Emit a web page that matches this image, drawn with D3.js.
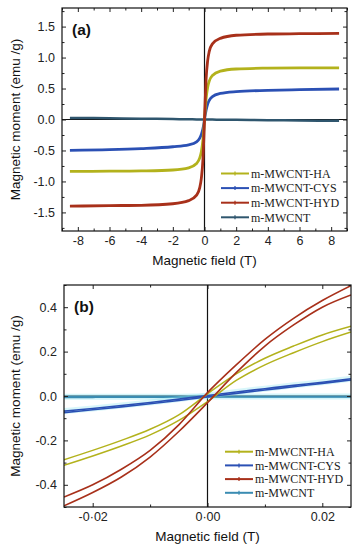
<!DOCTYPE html>
<html>
<head>
<meta charset="utf-8">
<script src="https://cdn.jsdelivr.net/npm/d3@7"></script>
<style>
  body { margin: 0; background: #fff; }
  svg { display: block; }
  .tick text { font-family: "Liberation Sans", Arial, sans-serif; font-size: 12.5px; fill: #222; }
  .domain { display: none; }
</style>
</head>
<body>
<svg width="359" height="550"></svg>
<script>
// series names + colours
const seriesNames = ["m-MWCNT-HA", "m-MWCNT-CYS", "m-MWCNT-HYD", "m-MWCNT"];
const colorsA = ["#b3b21c", "#2b50b4", "#a8301a", "#2f566e"];
const colorsB = ["#b3b21c", "#2b50b4", "#a8301a", "#3a8cb2"];

// (a) full loop, field in T, moment in emu/g
const fieldA = [-8.5, -6, -4, -2, -1, -0.5, -0.3, -0.2, -0.1, -0.05, 0, 0.05, 0.1, 0.2, 0.3, 0.5, 1, 2, 4, 6, 8.5];
const haA  = [-0.837, -0.835, -0.83, -0.815, -0.78, -0.71, -0.62, -0.52, -0.33, -0.18, 0, 0.18, 0.33, 0.52, 0.62, 0.71, 0.78, 0.815, 0.83, 0.835, 0.835];
const cysA = [-0.497, -0.487, -0.47, -0.44, -0.41, -0.36, -0.30, -0.24, -0.15, -0.08, 0, 0.08, 0.15, 0.25, 0.31, 0.37, 0.42, 0.45, 0.47, 0.482, 0.492];
const hydA = [-1.40, -1.39, -1.385, -1.36, -1.31, -1.22, -1.10, -0.95, -0.65, -0.35, 0, 0.35, 0.65, 0.95, 1.10, 1.22, 1.31, 1.36, 1.38, 1.385, 1.39];
const mwA  = [0.025, 0.02, 0.014, 0.007, 0.004, 0.002, 0.001, 0.001, 0, 0, 0, 0, 0, -0.001, -0.001, -0.002, -0.003, -0.006, -0.011, -0.016, -0.022];

// (b) low-field zoom, two branches each (upper = descending, lower = ascending)
const fieldB = [-0.025, -0.02, -0.015, -0.01, -0.005, 0, 0.005, 0.01, 0.015, 0.02, 0.025];
const haUpB   = [-0.287, -0.245, -0.20, -0.15, -0.085, 0.01, 0.10, 0.17, 0.225, 0.275, 0.314];
const haLoB   = [-0.312, -0.27, -0.225, -0.175, -0.11, -0.025, 0.07, 0.14, 0.195, 0.245, 0.288];
const cysUpB  = [-0.068, -0.056, -0.043, -0.029, -0.014, 0.002, 0.018, 0.033, 0.048, 0.062, 0.078];
const cysLoB  = [-0.075, -0.062, -0.049, -0.035, -0.020, -0.004, 0.012, 0.027, 0.042, 0.057, 0.072];
const hydUpB  = [-0.455, -0.40, -0.33, -0.245, -0.13, 0.015, 0.14, 0.255, 0.35, 0.43, 0.497];
const hydLoB  = [-0.495, -0.435, -0.365, -0.275, -0.16, -0.03, 0.105, 0.225, 0.32, 0.40, 0.455];
const mwUpB   = [-0.003, -0.003, -0.003, -0.003, -0.003, -0.002, -0.002, -0.002, -0.002, -0.002, -0.002];
const mwLoB   = [-0.006, -0.006, -0.005, -0.005, -0.005, -0.005, -0.004, -0.004, -0.004, -0.004, -0.004];

// ticks
const xMajorA = [-8, -6, -4, -2, 0, 2, 4, 6, 8];
const xMinorA = [-9, -7, -5, -3, -1, 1, 3, 5, 7, 9];
const yMajorA = [-1.5, -1.0, -0.5, 0.0, 0.5, 1.0, 1.5];
const yMinorA = [-1.75, -1.25, -0.75, -0.25, 0.25, 0.75, 1.25, 1.75];
const xMajorB = [-0.02, 0, 0.02];
const xLabelsB = ["-0\u00b702", "0\u00b700", "0.02"];
const xMinorB = [-0.01, 0.01];
const yMajorB = [-0.4, -0.2, 0.0, 0.2, 0.4];
const yMinorB = [-0.5, -0.3, -0.1, 0.1, 0.3, 0.5];

const svg = d3.select("svg");

// plain hyphen instead of d3's unicode minus
const hyph = f => (d => f(d).replace("\u2212", "-"));

function drawPanel(p) {
  const x = d3.scaleLinear().domain(p.xDomain).range([p.left, p.right]);
  const y = d3.scaleLinear().domain(p.yDomain).range([p.bottom, p.top]);
  const g = svg.append("g");
  const w = p.right - p.left, h = p.bottom - p.top;

  // clip for curves
  const clipId = "clip-" + p.tag;
  svg.append("defs").append("clipPath").attr("id", clipId)
    .append("rect").attr("x", p.left).attr("y", p.top).attr("width", w).attr("height", h);

  // zero lines
  g.append("line").attr("x1", x(0)).attr("x2", x(0)).attr("y1", p.top).attr("y2", p.bottom)
    .attr("stroke", "#111").attr("stroke-width", 1.2);
  g.append("line").attr("x1", p.left).attr("x2", p.right).attr("y1", y(0)).attr("y2", y(0))
    .attr("stroke", "#111").attr("stroke-width", 1.2);

  const line = d3.line().x(d => x(d[0])).y(d => y(d[1])).curve(d3.curveMonotoneX);
  const cg = g.append("g").attr("clip-path", `url(#${clipId})`);
  p.curves.forEach(c => {
    const pts = p.field.map((f, i) => [f, c.values[i]]);
    if (c.halo) {
      cg.append("path").attr("d", line(pts)).attr("fill", "none")
        .attr("stroke", c.halo).attr("stroke-width", 6).attr("opacity", 0.35);
    }
    cg.append("path").attr("d", line(pts)).attr("fill", "none")
      .attr("stroke", c.color).attr("stroke-width", c.width);
  });

  // axes, ticks pointing inward on all four sides
  const fmt = p.xLabels ? ((d, i) => p.xLabels[i]) : hyph(d3.format("d"));
  g.append("g").attr("transform", `translate(0,${p.bottom})`)
    .call(d3.axisBottom(x).tickValues(p.xMajor).tickSize(-4).tickPadding(5).tickFormat(fmt));
  g.append("g").attr("transform", `translate(0,${p.bottom})`)
    .call(d3.axisBottom(x).tickValues(p.xMinor).tickSize(-2.5).tickFormat(""));
  g.append("g").attr("transform", `translate(0,${p.top})`)
    .call(d3.axisTop(x).tickValues(p.xMajor).tickSize(-4).tickFormat(""));
  g.append("g").attr("transform", `translate(0,${p.top})`)
    .call(d3.axisTop(x).tickValues(p.xMinor).tickSize(-2.5).tickFormat(""));
  g.append("g").attr("transform", `translate(${p.left},0)`)
    .call(d3.axisLeft(y).tickValues(p.yMajor).tickSize(-4).tickPadding(7).tickFormat(hyph(d3.format(".1f"))));
  g.append("g").attr("transform", `translate(${p.left},0)`)
    .call(d3.axisLeft(y).tickValues(p.yMinor).tickSize(-2.5).tickFormat(""));
  g.append("g").attr("transform", `translate(${p.right},0)`)
    .call(d3.axisRight(y).tickValues(p.yMajor).tickSize(-4).tickFormat(""));
  g.append("g").attr("transform", `translate(${p.right},0)`)
    .call(d3.axisRight(y).tickValues(p.yMinor).tickSize(-2.5).tickFormat(""));
  g.selectAll(".tick line").attr("stroke", "#222");

  // frame
  g.append("rect").attr("x", p.left).attr("y", p.top).attr("width", w).attr("height", h)
    .attr("fill", "none").attr("stroke", "#111").attr("stroke-width", 1.2);

  // panel tag
  g.append("text").attr("x", p.left + 10).attr("y", p.top + 27)
    .attr("font-family", "Liberation Sans, Arial, sans-serif").attr("font-weight", "bold")
    .attr("font-size", 15.5).attr("fill", "#111").text(`(${p.tag})`);

  // axis titles
  g.append("text").attr("x", (p.left + p.right) / 2).attr("y", p.bottom + 34)
    .attr("text-anchor", "middle").attr("font-family", "Liberation Sans, Arial, sans-serif")
    .attr("font-size", 13.5).attr("fill", "#111").text("Magnetic field (T)");
  g.append("text").attr("transform", `translate(20,${(p.top + p.bottom) / 2}) rotate(-90)`)
    .attr("text-anchor", "middle").attr("font-family", "Liberation Sans, Arial, sans-serif")
    .attr("font-size", 13.5).attr("fill", "#111").text("Magnetic moment (emu /g)");

  // legend
  const lg = g.append("g");
  seriesNames.forEach((name, i) => {
    const yy = p.legendY + i * p.legendStep;
    lg.append("line").attr("x1", p.legendX).attr("x2", p.legendX + 28).attr("y1", yy).attr("y2", yy)
      .attr("stroke", p.legendColors[i]).attr("stroke-width", 2);
    lg.append("line").attr("x1", p.legendX + 14).attr("x2", p.legendX + 14).attr("y1", yy - 2).attr("y2", yy + 2)
      .attr("stroke", p.legendColors[i]).attr("stroke-width", 1.2);
    lg.append("text").attr("x", p.legendX + 30).attr("y", yy).attr("dy", "0.35em")
      .attr("font-family", "Liberation Serif, Times New Roman, serif").attr("font-size", 12)
      .attr("fill", "#222").text(name);
  });
}

drawPanel({
  tag: "a", left: 62, right: 347, top: 8, bottom: 231,
  xDomain: [-9, 9], yDomain: [-1.8, 1.8],
  xMajor: xMajorA, xMinor: xMinorA, yMajor: yMajorA, yMinor: yMinorA,
  field: fieldA,
  curves: [
    {values: mwA, color: colorsA[3], width: 2.5},
    {values: cysA, color: colorsA[1], width: 2.8},
    {values: haA, color: colorsA[0], width: 2.8},
    {values: hydA, color: colorsA[2], width: 2.8}
  ],
  legendColors: colorsA, legendX: 221, legendY: 173.5, legendStep: 14.6
});

drawPanel({
  tag: "b", left: 64, right: 351, top: 285, bottom: 507,
  xDomain: [-0.025, 0.025], yDomain: [-0.5, 0.5],
  xMajor: xMajorB, xLabels: xLabelsB, xMinor: xMinorB, yMajor: yMajorB, yMinor: yMinorB,
  field: fieldB,
  curves: [
    {values: mwUpB, color: colorsB[3], width: 1.6, halo: "#7fe3f0"},
    {values: mwLoB, color: colorsB[3], width: 1.6},
    {values: cysUpB, color: colorsB[1], width: 1.6, halo: "#8fe6f2"},
    {values: cysLoB, color: colorsB[1], width: 1.6},
    {values: haUpB, color: colorsB[0], width: 1.5},
    {values: haLoB, color: colorsB[0], width: 1.5},
    {values: hydUpB, color: colorsB[2], width: 1.6},
    {values: hydLoB, color: colorsB[2], width: 1.6}
  ],
  legendColors: colorsB, legendX: 225, legendY: 451.7, legendStep: 13.7
});
</script>
</body>
</html>
